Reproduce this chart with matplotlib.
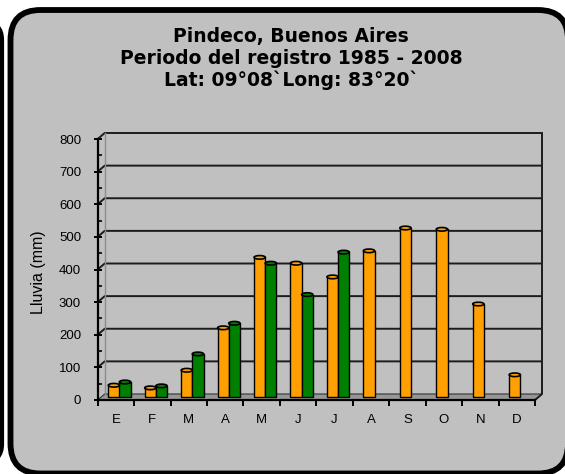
import numpy as np
import matplotlib
matplotlib.use("Agg")
import matplotlib.pyplot as plt
from matplotlib.patches import FancyBboxPatch, Polygon, Ellipse
import matplotlib.transforms as mtransforms

# Monthly rainfall (mm), two series; the second only covers Jan-Jul
months = ["E", "F", "M", "A", "M", "J", "J", "A", "S", "O", "N", "D"]
lluvia_a = [36, 28, 82, 212, 428, 410, 368, 448, 518, 514, 285, 68]
lluvia_b = [46, 34, 132, 226, 410, 314, 444, np.nan, np.nan, np.nan, np.nan, np.nan]
y_ticks = [0, 100, 200, 300, 400, 500, 600, 700, 800]

title_lines = ["Pindeco, Buenos Aires",
               "Periodo del registro 1985 - 2008",
               "Lat: 09\u00b008`Long: 83\u00b020`"]

W, H = 565, 474
fig = plt.figure(figsize=(W / 100, H / 100), dpi=100)
fig.patch.set_facecolor("white")

# background layer in pixel units for the rounded panels
bg = fig.add_axes([0, 0, 1, 1], zorder=0)
bg.set_xlim(0, W)
bg.set_ylim(H, 0)
bg.axis("off")
bg.add_patch(FancyBboxPatch((-200, 22), 202, 440,
                            boxstyle="round,pad=0,rounding_size=18",
                            facecolor="#c0c0c0", edgecolor="black", lw=3.0))
bg.add_patch(FancyBboxPatch((10.5, 10), 557.5, 463.5,
                            boxstyle="round,pad=0,rounding_size=30",
                            facecolor="#c0c0c0", edgecolor="black", lw=4.2))

# chart axes (front plane)
x0, x1 = 97.7, 535.0
y0, y1 = 400.0, 139.0
ax = fig.add_axes([x0 / W, (H - y0) / H, (x1 - x0) / W, (y0 - y1) / H], zorder=2)
ax.set_facecolor("none")
n = len(months)
ax.set_xlim(0, n)
ax.set_ylim(0, 800)

px_x = (x1 - x0) / n          # pixels per category
px_y = (y0 - y1) / 800.0      # pixels per mm
DX = 7.0 / px_x               # depth offset of the back wall
DY = 6.0 / px_y

grid_c = "#1c1c1c"
# floor
ax.add_patch(Polygon([(0, 0), (n, 0), (n + DX, DY), (DX, DY)], closed=True,
                     facecolor="#979797", edgecolor="#333333", lw=0.8,
                     clip_on=False, zorder=1))
# back-wall gridlines and side-wall diagonals
for v in y_ticks[1:]:
    ax.plot([0, DX, n + DX], [v, v + DY, v + DY], color=grid_c, lw=1.4,
            clip_on=False, zorder=1, solid_capstyle="butt")
# back wall left edge and right wall edge
ax.plot([DX, DX], [DY, 800 + DY], color="#8c8c8c", lw=1.0, clip_on=False, zorder=1)
ax.plot([n, n + DX, n + DX], [0, DY, 800 + DY], color=grid_c, lw=1.4,
        clip_on=False, zorder=1)

# bars sit slightly behind the front plane
bar_tr = ax.transData + mtransforms.ScaledTranslation(0, 3 / 100, fig.dpi_scale_trans)
orange = "#ffa000"
green = "#008000"
bw = 0.31
xc = np.arange(n) + 0.5
for xs, vals, col in [(xc - 0.055, lluvia_a, orange), (xc + 0.25, lluvia_b, green)]:
    for xi, v in zip(xs, vals):
        if np.isnan(v):
            continue
        ax.bar(xi, v, width=bw, color=col, edgecolor="black", lw=1.0,
               transform=bar_tr, zorder=3, clip_on=False)
        ax.add_patch(Ellipse((xi, v), bw, 11, facecolor=col, edgecolor="black",
                             lw=1.2, transform=bar_tr, zorder=4, clip_on=False))

# axes styling
for s in ["top", "right"]:
    ax.spines[s].set_visible(False)
ax.spines["left"].set_linewidth(1.6)
ax.spines["bottom"].set_linewidth(1.6)
ax.spines["left"].set_zorder(5)
ax.spines["bottom"].set_zorder(5)

ax.set_yticks(y_ticks)
ax.set_yticks(np.arange(50, 800, 50), minor=True)
ax.tick_params(axis="y", which="major", direction="inout", length=6, width=1.4,
               pad=9, labelsize=9.5)
ax.tick_params(axis="y", which="minor", direction="in", length=3, width=1.2)
ax.set_xticks(np.arange(0, n + 1))
ax.set_xticklabels([])
ax.set_xticks(xc, minor=True)
ax.set_xticklabels(months, minor=True)
ax.tick_params(axis="x", which="major", direction="out", length=4, width=1.4)
ax.tick_params(axis="x", which="minor", length=0, pad=10, labelsize=9.5)
for lab in ax.get_yticklabels() + ax.get_xticklabels(minor=True):
    lab.set_fontfamily("Liberation Sans")

fig.text(38 / W, (H - 272) / H, "Lluvia (mm)", rotation=90, ha="center",
         va="center", fontsize=11.5, family="Liberation Sans")

for i, line in enumerate(title_lines):
    fig.text(291 / W, (H - (36.5 + i * 22)) / H, line, ha="center", va="center",
             fontsize=13.5, fontweight="bold", family="DejaVu Sans")

fig.savefig("out.png", dpi=100)
